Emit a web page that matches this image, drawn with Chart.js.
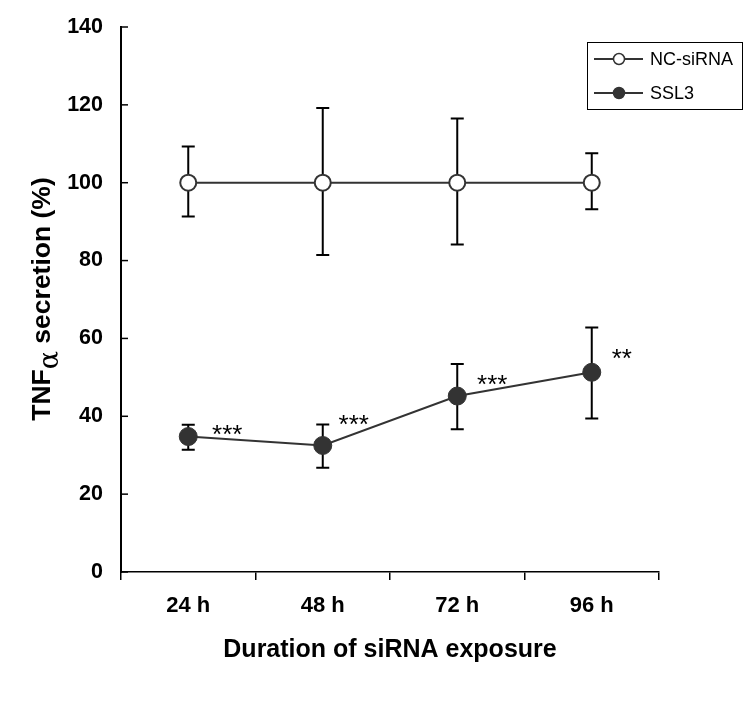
<!DOCTYPE html>
<html>
<head>
<meta charset="utf-8">
<script src="https://cdn.jsdelivr.net/npm/chart.js@4.4.0/dist/chart.umd.min.js"></script>
<style>
    html, body { margin: 0; padding: 0; background: #fff; }
    #wrap { width: 750px; height: 706px; }
</style>
</head>
<body>
<div id="wrap"><canvas id="grafico"></canvas></div>
<script>
// dados
const horas = ["24 h", "48 h", "72 h", "96 h"];
const ncMedia = [100, 100, 100, 100];
const ncSup = [109.3, 119.2, 116.5, 107.6];
const ncInf = [91.3, 81.4, 84.1, 93.2];
const sslMedia = [34.8, 32.5, 45.2, 51.3];
const sslSup = [37.8, 37.9, 53.4, 62.8];
const sslInf = [31.4, 26.8, 36.7, 39.4];
const signif = ["***", "***", "***", "**"];
const signifY = [36.3, 38.9, 49.2, 55.8];
const yTicks = [0, 20, 40, 60, 80, 100, 120, 140];

const FONTE = "'Liberation Sans', Arial, sans-serif";
const COR = "#333333";

// =========================
// barras de erro
// =========================
const barrasErro = {
    id: "barrasErro",
    beforeDatasetsDraw(chart) {
        const ctx = chart.ctx;
        const x = chart.scales.x;
        const y = chart.scales.y;
        const grupos = [[ncSup, ncInf], [sslSup, sslInf]];
        ctx.save();
        ctx.strokeStyle = "#000";
        ctx.lineWidth = 2;
        grupos.forEach(([sup, inf]) => {
            sup.forEach((v, i) => {
                const px = x.getPixelForValue(i);
                const y1 = y.getPixelForValue(v);
                const y2 = y.getPixelForValue(inf[i]);
                ctx.beginPath();
                ctx.moveTo(px, y1); ctx.lineTo(px, y2);
                ctx.moveTo(px - 6.5, y1); ctx.lineTo(px + 6.5, y1);
                ctx.moveTo(px - 6.5, y2); ctx.lineTo(px + 6.5, y2);
                ctx.stroke();
            });
        });
        ctx.restore();
    }
};

// =========================
// extras: ticks internos, título Y, asteriscos, legenda
// =========================
const extras = {
    id: "extras",
    afterDraw(chart) {
        const ctx = chart.ctx;
        const x = chart.scales.x;
        const y = chart.scales.y;
        const area = chart.chartArea;
        ctx.save();

        // ticks do eixo Y para dentro
        ctx.strokeStyle = "#000";
        ctx.lineWidth = 1.5;
        yTicks.forEach(t => {
            const py = y.getPixelForValue(t);
            ctx.beginPath();
            ctx.moveTo(area.left, py);
            ctx.lineTo(area.left + 7, py);
            ctx.stroke();
        });

        // título do eixo Y com alfa subscrito
        ctx.fillStyle = "#000";
        ctx.textBaseline = "alphabetic";
        const f1 = "bold 26.5px " + FONTE;
        const f2 = "27px 'DejaVu Serif', serif";
        ctx.font = f1;
        const wA = ctx.measureText("TNF").width;
        const wC = ctx.measureText(" secretion (%)").width;
        ctx.font = f2;
        const wB = ctx.measureText("\u03b1").width;
        const total = wA + wB + wC;
        ctx.translate(50, 299);
        ctx.rotate(-Math.PI / 2);
        let cx = -total / 2;
        ctx.font = f1;
        ctx.textAlign = "left";
        ctx.fillText("TNF", cx, 0);
        cx += wA;
        ctx.font = f2;
        ctx.fillText("\u03b1", cx, 8);
        cx += wB;
        ctx.font = f1;
        ctx.fillText(" secretion (%)", cx, 0);
        ctx.setTransform(1, 0, 0, 1, 0, 0);

        // asteriscos de significância
        const desloc = [39, 31, 35, 30];
        ctx.font = "26px " + FONTE;
        ctx.textAlign = "center";
        ctx.textBaseline = "middle";
        signif.forEach((s, i) => {
            ctx.fillText(s, x.getPixelForValue(i) + desloc[i], y.getPixelForValue(signifY[i]) + 5);
        });

        // legenda
        ctx.lineWidth = 1;
        ctx.strokeStyle = "#000";
        ctx.strokeRect(587.5, 42.5, 155, 67);
        ctx.font = "18px " + FONTE;
        ctx.textAlign = "left";
        chart.data.datasets.forEach((ds, i) => {
            const ly = 59 + i * 34;
            ctx.strokeStyle = ds.borderColor;
            ctx.lineWidth = 2;
            ctx.beginPath();
            ctx.moveTo(594, ly); ctx.lineTo(643, ly);
            ctx.stroke();
            ctx.beginPath();
            ctx.arc(619, ly, 5.5, 0, Math.PI * 2);
            ctx.fillStyle = ds.pointBackgroundColor;
            ctx.fill();
            ctx.lineWidth = 1.5;
            ctx.strokeStyle = ds.pointBorderColor;
            ctx.stroke();
            ctx.fillStyle = "#000";
            ctx.fillText(ds.label, 650, ly + 1);
        });

        ctx.restore();
    }
};

new Chart(document.getElementById("grafico"), {
    type: "line",
    data: {
        labels: horas,
        datasets: [{
            label: "NC-siRNA",
            data: ncMedia,
            borderColor: COR,
            borderWidth: 2,
            pointRadius: 8,
            pointBorderWidth: 2,
            pointBackgroundColor: "#ffffff",
            pointBorderColor: COR,
            tension: 0
        }, {
            label: "SSL3",
            data: sslMedia,
            borderColor: COR,
            borderWidth: 2,
            pointRadius: 9,
            pointBorderWidth: 1,
            pointBackgroundColor: COR,
            pointBorderColor: COR,
            tension: 0
        }]
    },
    options: {
        responsive: true,
        maintainAspectRatio: false,
        animation: false,
        layout: {
            padding: { top: 27, right: 91, bottom: 0, left: 0 }
        },
        plugins: {
            legend: { display: false },
            tooltip: { enabled: false }
        },
        scales: {
            x: {
                offset: true,
                afterFit: s => { s.height = 134; },
                grid: {
                    offset: true,
                    drawOnChartArea: false,
                    drawTicks: true,
                    tickLength: 8,
                    color: "#000",
                    lineWidth: 1.5
                },
                border: { color: "#000", width: 1.5 },
                ticks: {
                    color: "#000",
                    padding: 13,
                    font: { family: FONTE, size: 22, weight: "bold" }
                },
                title: {
                    display: true,
                    text: "Duration of siRNA exposure",
                    color: "#000",
                    font: { family: FONTE, size: 25, weight: "bold" },
                    padding: { top: 0, bottom: 41 }
                }
            },
            y: {
                min: 0,
                max: 140,
                afterFit: s => { s.width = 121; },
                afterBuildTicks: s => { s.ticks = yTicks.map(v => ({ value: v })); },
                grid: { display: false, drawTicks: true, tickLength: 16 },
                border: { color: "#000", width: 2 },
                ticks: {
                    color: "#000",
                    padding: 2,
                    font: { family: FONTE, size: 21.5, weight: "bold" }
                }
            }
        }
    },
    plugins: [barrasErro, extras]
});
</script>
</body>
</html>
